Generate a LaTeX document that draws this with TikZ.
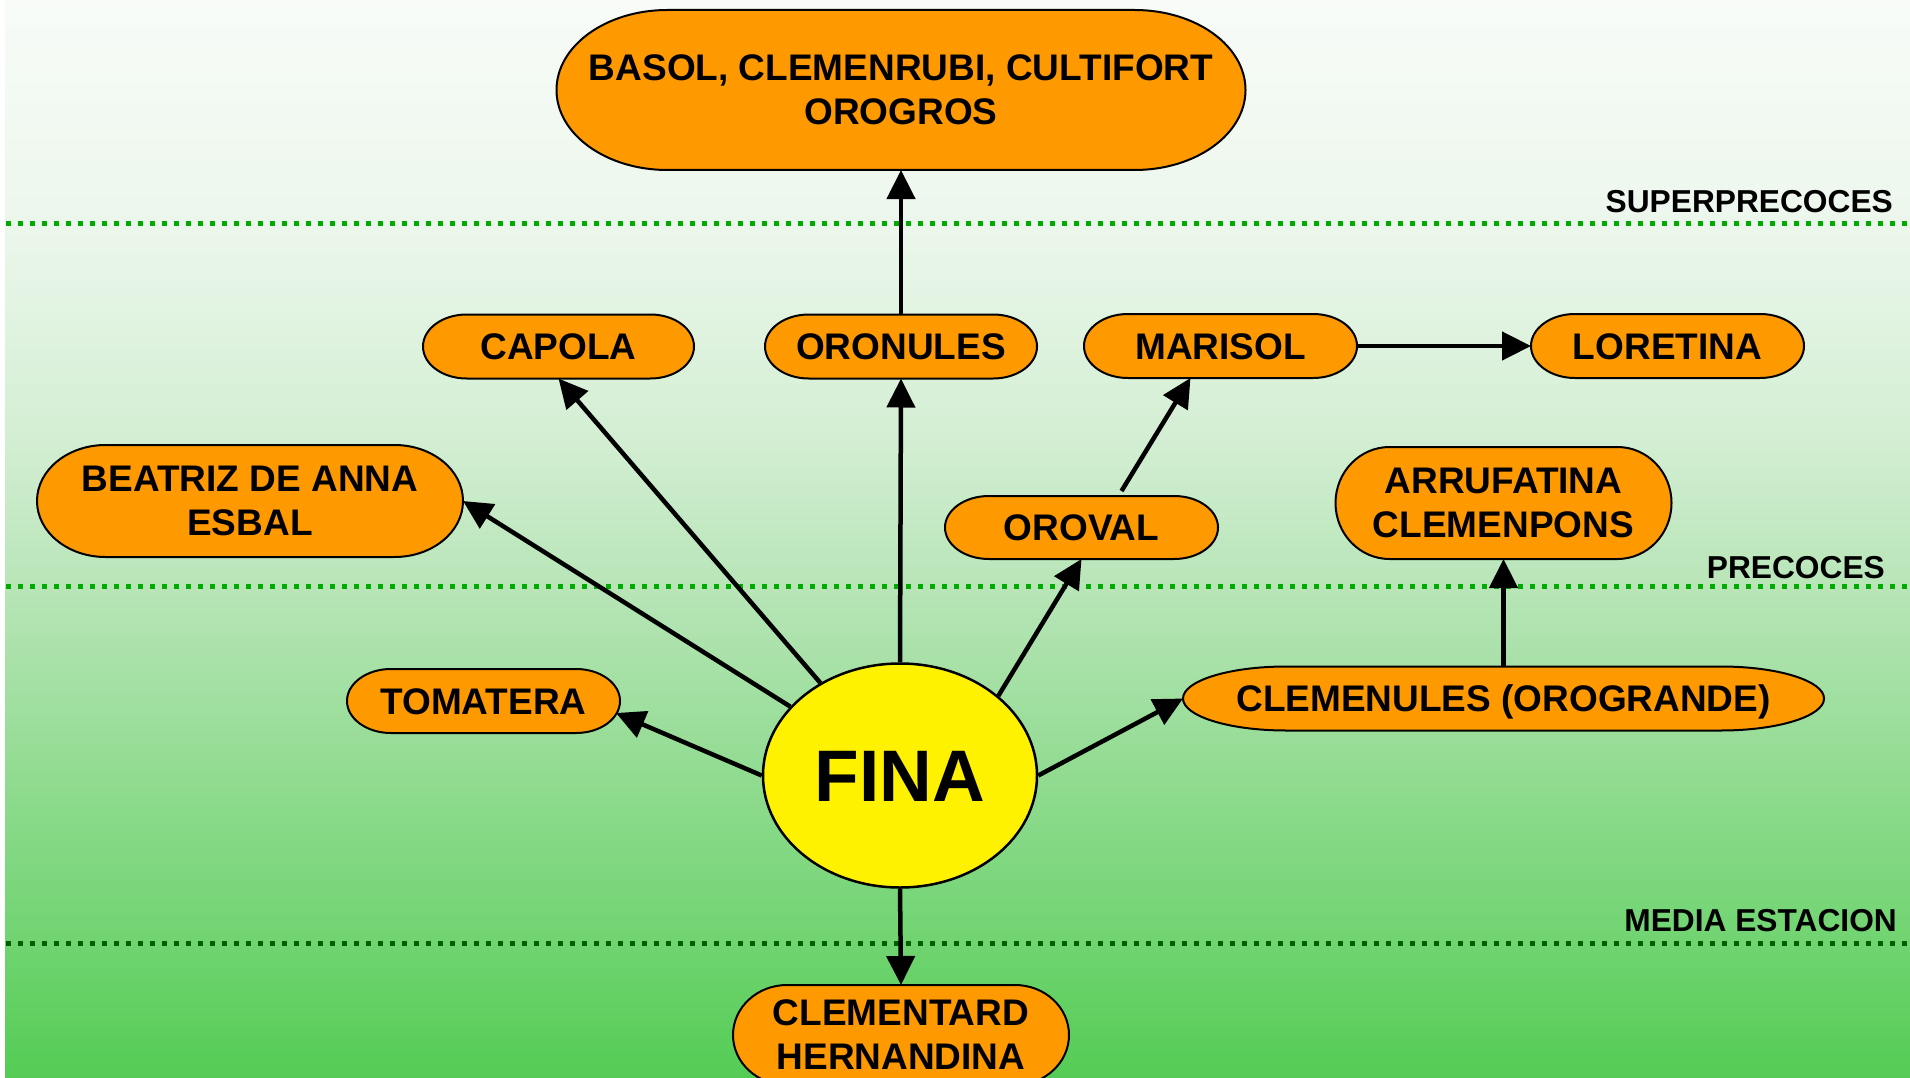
\documentclass[tikz,border=0pt]{standalone}
\usepackage{fontspec}
\setmainfont{Liberation Sans}
\usetikzlibrary{arrows.meta,shapes.geometric,calc}
\definecolor{orng}{RGB}{255,153,0}
\definecolor{dotg}{RGB}{0,170,0}
\definecolor{dotdark}{RGB}{0,96,0}
\definecolor{bgA}{RGB}{248,251,248}
\definecolor{bgB}{RGB}{236,247,236}
\definecolor{bgC}{RGB}{210,238,210}
\definecolor{bgD}{RGB}{184,229,184}
\definecolor{bgE}{RGB}{148,220,148}
\definecolor{bgF}{RGB}{112,212,112}
\definecolor{bgG}{RGB}{84,204,84}
\newcommand\tnode[7]{%
  \pgfmathsetmacro\tmRx{0.1609*#4}%
  \pgfmathsetmacro\tmRy{#5/2}%
  \pgfmathsetmacro\tmXa{#2-#4/2+\tmRx}%
  \pgfmathsetmacro\tmXb{#2+#4/2-\tmRx}%
  \pgfmathsetmacro\tmYt{#3-\tmRy}%
  \pgfmathsetmacro\tmYb{#3+\tmRy}%
  \path[termshape] (\tmXa,\tmYt) -- (\tmXb,\tmYt)
    arc[start angle=-90,end angle=90,x radius=\tmRx,y radius=\tmRy]
    -- (\tmXa,\tmYb)
    arc[start angle=90,end angle=270,x radius=\tmRx,y radius=\tmRy] -- cycle;
  \node[termtext,minimum width=#4pt,minimum height=#5pt,#7] (#1) at (#2,#3) {#6};
}
\begin{document}
\begin{tikzpicture}[x=1pt,y=-1pt,
  termshape/.style={fill=orng,draw=black,line width=2pt},
  termtext/.style={inner sep=0pt,outer sep=0pt,font=\fontsize{37}{44}\selectfont\bfseries},
  one/.style={text height=26.5pt,text depth=0pt},
  arr/.style={line width=4.5pt,-{Triangle[length=29pt,width=28pt]}},
  dotl/.style={line width=5pt,dash pattern=on 5pt off 7pt},
  lab/.style={inner sep=0pt,font=\fontsize{31.7}{38}\selectfont\bfseries}]
\useasboundingbox (0,0) rectangle (1910,1078);
\clip (0,0) rectangle (1910,1078);
\fill[white] (0,0) rectangle (1910,1078);
\shade[top color=bgA,bottom color=bgB] (5,0) rectangle (1910,223.5);
\shade[top color=bgB,bottom color=bgC] (5,223) rectangle (1910,445.5);
\shade[top color=bgC,bottom color=bgD] (5,445) rectangle (1910,586.5);
\shade[top color=bgD,bottom color=bgE] (5,586) rectangle (1910,760.5);
\shade[top color=bgE,bottom color=bgF] (5,760) rectangle (1910,943.5);
\shade[top color=bgF,bottom color=bgG] (5,943) rectangle (1910,1078);
% level lines
\draw[dotl,dotg] (6,223.5) -- (1910,223.5);
\draw[dotl,dotg] (6,586) -- (1910,586);
\draw[dotl,dotdark] (6,943) -- (1910,943);
\node[lab,anchor=base east] (lsuper) at (1893,212) {SUPERPRECOCES};
\node[lab,anchor=base east] (lprec) at (1885,578) {PRECOCES};
\node[lab,anchor=base east] (lmedia) at (1897,931) {MEDIA ESTACION};
% nodes
\tnode{basol}{901}{90}{689}{160}{BASOL, CLEMENRUBI, CULTIFORT\\OROGROS}{align=center}
\tnode{capola}{558.5}{346.5}{271}{64}{CAPOLA}{one}
\tnode{oronules}{901}{346.5}{272}{64}{ORONULES}{one}
\tnode{marisol}{1220.5}{346}{273}{64}{MARISOL}{one}
\tnode{loretina}{1667.5}{346}{273}{64}{LORETINA}{one}
\tnode{beatriz}{250}{501}{426}{112}{BEATRIZ DE ANNA\\ESBAL}{align=center}
\tnode{oroval}{1081.5}{527.5}{273}{63}{OROVAL}{one}
\tnode{arrufatina}{1503.5}{503}{336}{112}{ARRUFATINA\\CLEMENPONS}{align=center}
\tnode{tomatera}{483.5}{701}{273}{64}{TOMATERA}{one}
\tnode{clemenules}{1503.5}{698.5}{641}{64}{CLEMENULES (OROGRANDE)}{one}
\tnode{clementard}{901}{1035}{336}{100}{CLEMENTARD\\HERNANDINA}{align=center}
\node[ellipse,draw=black,line width=2.5pt,fill=yellow,minimum width=274pt,minimum height=224pt,inner sep=0pt,
  font=\fontsize{73}{80}\selectfont\bfseries,text height=52.3pt,text depth=0pt] (fina) at (900,775.5) {FINA};
% connectors
\draw[arr] (oronules.north) -- (basol.south);
\draw[arr] (fina.north) -- (oronules.south);
\draw[arr] (fina) -- (capola.south);
\draw[arr] (fina) -- (beatriz.east);
\draw[arr] (fina.west) -- ($(tomatera.east)+(-4,12)$);
\draw[arr] (fina.39) -- (oroval.south);
\draw[arr] ($(oroval.north)+(40,-5)$) -- ($(marisol.south)+(-30,0)$);
\draw[arr] (marisol.east) -- (loretina.west);
\draw[arr] (fina.east) -- (clemenules.west);
\draw[arr] (clemenules.north) -- (arrufatina.south);
\draw[arr] (fina.south) -- (clementard.north);
\end{tikzpicture}
\end{document}
